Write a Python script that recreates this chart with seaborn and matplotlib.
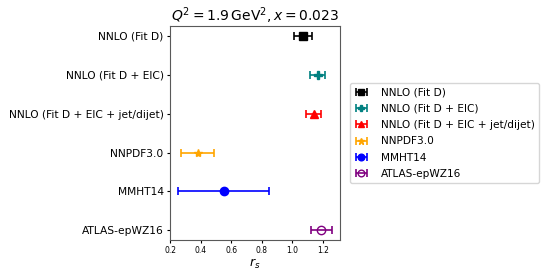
import numpy as np
import seaborn as sns
import matplotlib.pyplot as plt

# Data: r_s determinations
labels = ['NNLO (Fit D)', 'NNLO (Fit D + EIC)', 'NNLO (Fit D + EIC + jet/dijet)',
          'NNPDF3.0', 'MMHT14', 'ATLAS-epWZ16']
rs_central = [1.07, 1.165, 1.14, 0.38, 0.55, 1.19]
rs_error = [0.06, 0.05, 0.05, 0.11, 0.30, 0.07]
colors = ['black', 'teal', 'red', 'orange', 'blue', 'purple']
markers = ['s', 'P', '^', '*', 'o', 'o']

sns.set_style('ticks', {'text.color': 'black', 'axes.labelcolor': 'black',
                        'xtick.color': 'black', 'ytick.color': 'black',
                        'axes.edgecolor': '0.35'})
plt.rcParams['font.family'] = ['DejaVu Sans']

fig = plt.figure(figsize=(5.5, 2.75), dpi=100)
ax = fig.add_axes([0.309, 0.127, 0.309, 0.778])

ypos = np.arange(len(labels))
for i in range(len(labels)):
    face = 'none' if labels[i] == 'ATLAS-epWZ16' else colors[i]
    ax.errorbar(rs_central[i], ypos[i], xerr=rs_error[i], fmt=markers[i],
                color=colors[i], mfc=face, mec=colors[i], ms=6,
                capsize=3, elinewidth=1.2, capthick=1.2, label=labels[i])

ax.set_yticks(ypos)
ax.set_yticklabels(labels, fontsize=7.7)
ax.invert_yaxis()
ax.tick_params(axis='both', length=2.5, width=0.8, pad=2)
ax.tick_params(axis='x', labelsize=5.5)
ax.set_xlabel(r'$r_s$', fontsize=9, labelpad=1)
ax.set_title(r'$Q^2 = 1.9\,\mathrm{GeV}^2, x = 0.023$', fontsize=10, pad=3)
ax.legend(loc='center left', bbox_to_anchor=(1.03, 0.5), fontsize=7.6,
          frameon=True, labelspacing=0.6, handlelength=1.3, handletextpad=1.2,
          markerscale=0.8)

fig.savefig('out.png')
